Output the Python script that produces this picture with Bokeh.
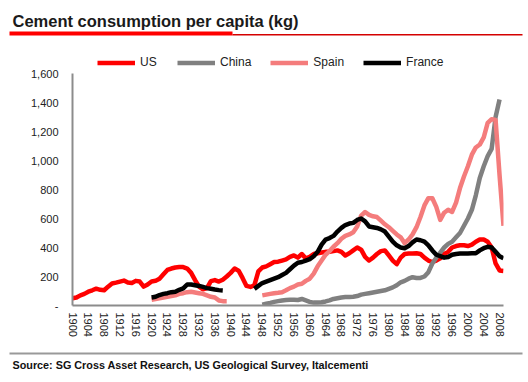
import numpy as np
from bokeh.plotting import figure
from bokeh.layouts import column
from bokeh.models import (Range1d, FixedTicker, Legend, LegendItem, Label,
                          BoxAnnotation)
from bokeh.embed import file_html
from bokeh.resources import INLINE

# ---------------- data ----------------
us_years = list(range(1900, 2010))
us_values = [
    50, 55, 70, 80, 95, 105, 116, 108, 105, 130,
    152, 158, 165, 172, 158, 155, 170, 165, 130, 145,
    166, 170, 185, 215, 245, 255, 262, 265, 265, 255,
    225, 175, 130, 112, 120, 168, 175, 165, 178, 200,
    225, 255, 240, 190, 135, 128, 140, 235, 262, 270,
    285, 300, 302, 310, 318, 335, 345, 330, 355, 325,
    335, 355, 360, 365, 370, 370, 375, 380, 370, 345,
    360, 380, 400, 385, 335, 310, 330, 355, 375, 380,
    345, 310, 285, 330, 355, 358, 358, 360, 355, 330,
    310, 300, 310, 325, 355, 370, 400, 410, 415, 415,
    410, 420, 440, 455, 455, 440, 400, 290, 242, 238,
]

china_years = list(range(1948, 2009))
china_values = [
    5, 12,
    18, 25, 30, 35, 38, 40, 40, 38, 45, 35,
    25, 20, 20, 22, 28, 35, 45, 50, 55, 58,
    58, 60, 65, 75, 80, 85, 90, 95, 100, 105,
    115, 125, 140, 160, 170, 185, 195, 190, 190, 200,
    230, 290, 330, 365, 400, 425, 440, 470, 500, 550,
    600, 660, 760, 880, 960, 1030, 1080, 1300, 1420,
]

spain_years_a = list(range(1920, 1940))
spain_values_a = [40, 45, 50, 55, 60, 65, 70, 80, 85, 92,
                  95, 90, 85, 80, 70, 60, 55, 35, 30, 30]
spain_years_b = list(range(1948, 2010))
spain_values_b = [
    70, 75,
    80, 85, 88, 92, 105, 120, 130, 145, 150, 170,
    185, 220, 270, 310, 350, 375, 405, 430, 460, 480,
    490, 505, 545, 620, 645, 625, 615, 610, 585, 560,
    540, 515, 490, 470, 430, 455, 490, 540, 610, 690,
    740, 740, 680, 590, 640, 660, 645, 710, 810, 890,
    960, 1040, 1090, 1110, 1160, 1260, 1285, 1280, 900, 550,
]

france_years_a = list(range(1920, 1939))
france_values_a = [55, 60, 72, 80, 85, 92, 95, 108, 118, 145,
                   145, 140, 135, 128, 120, 115, 110, 106, 104]
france_years_b = list(range(1946, 2010))
france_values_b = [
    115, 135, 155, 165,
    175, 185, 195, 210, 225, 250, 275, 295, 300, 310,
    320, 340, 370, 420, 455, 465, 480, 510, 535, 555,
    565, 570, 590, 600, 580, 545, 540, 535, 525, 510,
    475, 440, 415, 400, 395, 410, 435, 455, 450, 440,
    415, 380, 350, 340, 330, 335, 350, 355, 358, 358,
    358, 360, 360, 380, 395, 405, 400, 370, 340, 325,
]

series_names = ["US", "China", "Spain", "France"]
x_ticks = list(range(1900, 2009, 4))
y_ticks = [0, 200, 400, 600, 800, 1000, 1200, 1400, 1600]
y_tick_labels = ["-", "200", "400", "600", "800", "1,000", "1,200", "1,400", "1,600"]

title_text = "Cement consumption per capita (kg)"
source_text = "Source: SG Cross Asset Research, US Geological Survey, Italcementi"

# ---------------- styles ----------------
FONT = "Liberation Sans"
C_US = "#ff0000"
C_CHINA = "#808080"
C_SPAIN = "#f47c7c"
C_FRANCE = "#000000"
LW = 4.5
W = 528


def join_segments(xa, ya, xb, yb):
    x = list(xa) + [np.nan] + list(xb)
    y = list(ya) + [np.nan] + list(yb)
    return x, y


def deco_figure(height):
    f = figure(width=W, height=height, output_backend="svg", toolbar_location=None,
               title=None, x_range=Range1d(0, W), y_range=Range1d(0, height),
               x_axis_type=None, y_axis_type=None,
               min_border_left=0, min_border_right=0,
               min_border_top=0, min_border_bottom=0,
               frame_align=False)
    f.outline_line_color = None
    f.xgrid.visible = False
    f.ygrid.visible = False
    f.background_fill_color = "white"
    f.border_fill_color = "white"
    return f


# ---------------- header ----------------
top = deco_figure(53)
top.add_layout(Label(x=12, y=32.5, text=title_text, text_font=FONT,
                     text_font_style="bold", text_font_size="16.5px",
                     text_baseline="alphabetic", text_color="#1a1a1a"))
top.add_layout(BoxAnnotation(left=9, right=232, top=22, bottom=18,
                             fill_color="#ff0000", fill_alpha=1, line_color=None))
top.add_layout(BoxAnnotation(left=232, right=522, top=19.5, bottom=18,
                             fill_color="#d40000", fill_alpha=1, line_color=None))

# ---------------- main chart ----------------
FRAME_H = 252          # pixels from page y 53 to 305
AXIS_H = 232           # pixels used by 0..1600
y_end = 1600 * FRAME_H / AXIS_H

p = figure(width=W, height=295, output_backend="svg", toolbar_location=None,
           title=None,
           x_range=Range1d(1900, 2009), y_range=Range1d(0, y_end),
           min_border_left=72, min_border_right=25,
           min_border_top=0, min_border_bottom=43,
           frame_align=False)
p.outline_line_color = None
p.xgrid.visible = False
p.ygrid.visible = False
p.background_fill_color = "white"
p.border_fill_color = "white"

r_us = p.line(us_years, us_values, line_color=C_US, line_width=LW, line_join="round")
r_china = p.line(china_years, china_values, line_color=C_CHINA, line_width=LW, line_join="round")
sx, sy = join_segments(spain_years_a, spain_values_a, spain_years_b, spain_values_b)
r_spain = p.line(sx, sy, line_color=C_SPAIN, line_width=LW, line_join="round")
fx, fy = join_segments(france_years_a, france_values_a, france_years_b, france_values_b)
r_france = p.line(fx, fy, line_color=C_FRANCE, line_width=LW, line_join="round")

for ax in (p.xaxis[0], p.yaxis[0]):
    ax.axis_line_color = "#8c8c8c"
    ax.axis_line_width = 2
    ax.major_tick_line_color = None
    ax.minor_tick_line_color = None
    ax.major_tick_out = 0
    ax.major_tick_in = 0
    ax.major_label_text_font = FONT
    ax.major_label_text_font_size = "11px"
    ax.major_label_text_color = "#222222"

p.xaxis.ticker = FixedTicker(ticks=x_ticks)
p.xaxis.major_label_overrides = {t: str(t) for t in x_ticks}
p.xaxis.major_label_orientation = "vertical"
p.xaxis.major_label_standoff = 7

p.yaxis.ticker = FixedTicker(ticks=y_ticks)
p.yaxis.major_label_overrides = dict(zip(y_ticks, y_tick_labels))
p.yaxis.major_label_standoff = 14
p.yaxis.bounds = (0, 1600)

legend = Legend(items=[LegendItem(label=series_names[0], renderers=[r_us]),
                       LegendItem(label=series_names[1], renderers=[r_china]),
                       LegendItem(label=series_names[2], renderers=[r_spain]),
                       LegendItem(label=series_names[3], renderers=[r_france])],
                orientation="horizontal", location=(25, 236),
                padding=0, margin=0, spacing=19,
                glyph_width=38, glyph_height=13, label_height=13,
                label_width=18, label_standoff=5,
                label_text_font=FONT, label_text_font_size="12px",
                label_text_color="#222222",
                border_line_color=None, background_fill_alpha=0)
p.add_layout(legend)

# ---------------- footer ----------------
bottom = deco_figure(34)
bottom.add_layout(BoxAnnotation(left=9, right=522, top=30, bottom=28,
                                fill_color="#999999", fill_alpha=1, line_color=None))
bottom.add_layout(Label(x=12, y=18, text=source_text, text_font=FONT,
                        text_font_style="bold", text_font_size="10.8px",
                        text_baseline="alphabetic", text_color="#111111"))

layout = column(top, p, bottom, spacing=0)
open("out.html", "w").write(file_html(layout, INLINE))
